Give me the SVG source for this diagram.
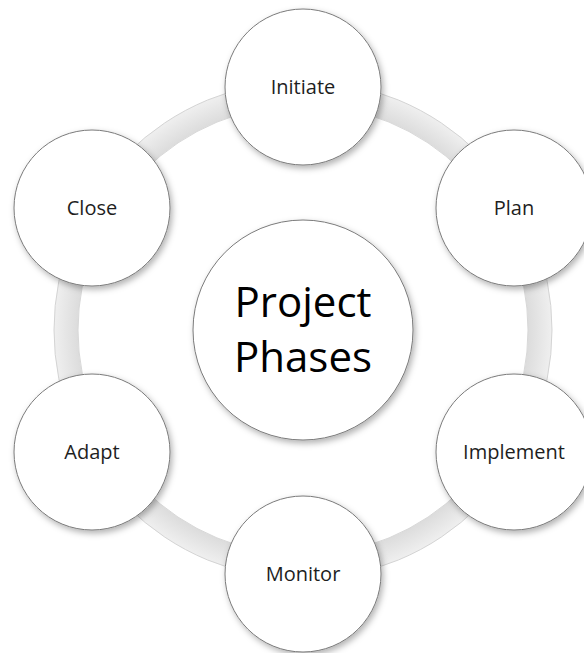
<svg xmlns="http://www.w3.org/2000/svg" width="584" height="653" viewBox="0 0 584 653">
<defs>
<filter id="sh" x="-20%" y="-20%" width="150%" height="150%">
<feDropShadow dx="2" dy="3" stdDeviation="3" flood-color="#000" flood-opacity="0.3"/>
</filter>
<radialGradient id="ringg" gradientUnits="userSpaceOnUse" cx="303" cy="330" r="250">
<stop offset="0.9" stop-color="#dcdcdc"/>
<stop offset="0.96" stop-color="#e8e8e8"/>
<stop offset="1" stop-color="#f0f0f0"/>
</radialGradient>
</defs>
<style>
.node{fill:#ffffff;stroke:#7a7a7a;stroke-width:1;filter:url(#sh)}
.lbl{font-family:"Open Sans","Noto Sans","Liberation Sans",sans-serif;font-size:20px;fill:#1e1e1e;text-anchor:middle}
.big{font-family:"Open Sans","Noto Sans","Liberation Sans",sans-serif;font-size:42px;fill:#000000;text-anchor:middle}
</style>
<rect width="584" height="653" fill="#ffffff"/>
<g id="connectors">
<circle cx="303" cy="330" r="237" fill="none" stroke="url(#ringg)" stroke-width="24"/>
<circle cx="303" cy="330" r="225" fill="none" stroke="#d8d8d8" stroke-width="1"/>
<circle cx="303" cy="330" r="249" fill="none" stroke="#d4d4d4" stroke-width="1"/>
</g>
<g id="center">
<circle class="node" cx="303" cy="330" r="110"/>
<text class="big" x="303" y="317">Project</text>
<text class="big" x="303" y="372">Phases</text>
</g>
<g id="initiate">
<circle class="node" cx="303" cy="87" r="78"/>
<text class="lbl" x="303" y="94">Initiate</text>
</g>
<g id="plan">
<circle class="node" cx="514" cy="208" r="78"/>
<text class="lbl" x="514" y="215">Plan</text>
</g>
<g id="implement">
<circle class="node" cx="514" cy="452" r="78"/>
<text class="lbl" x="514" y="459">Implement</text>
</g>
<g id="monitor">
<circle class="node" cx="303" cy="574" r="78"/>
<text class="lbl" x="303" y="581">Monitor</text>
</g>
<g id="adapt">
<circle class="node" cx="92" cy="452" r="78"/>
<text class="lbl" x="92" y="459">Adapt</text>
</g>
<g id="close">
<circle class="node" cx="92" cy="208" r="78"/>
<text class="lbl" x="92" y="215">Close</text>
</g>
</svg>
